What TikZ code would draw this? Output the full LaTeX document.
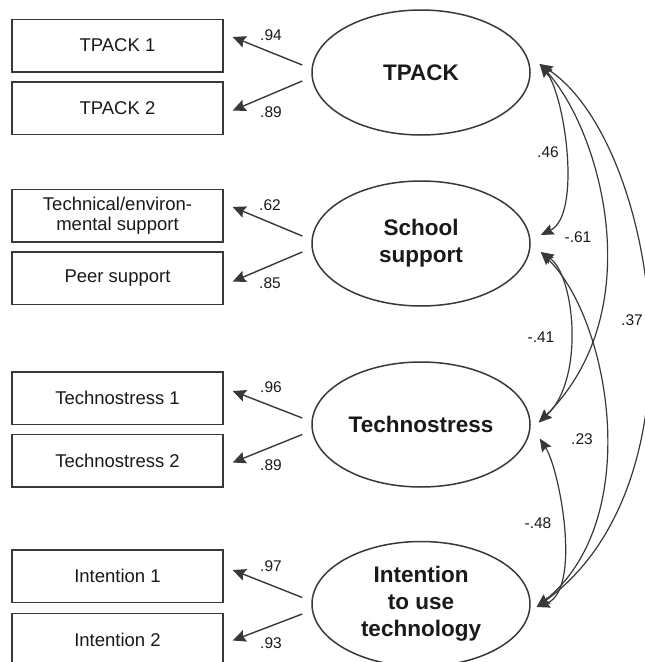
\documentclass[tikz,border=0pt]{standalone}
\usepackage{fontspec}
\setmainfont{Liberation Sans}
\usetikzlibrary{arrows.meta,calc,shapes.geometric}
\definecolor{ln}{HTML}{383838}
\definecolor{tx}{HTML}{1A1A1A}
\begin{document}
\begin{tikzpicture}[x=1pt,y=-1pt,
  obs/.style={draw=ln, line width=1.5pt, rectangle, minimum width=211pt, minimum height=52.5pt, inner sep=0pt, text=tx, font=\fontsize{18.5}{20}\selectfont, align=center},
  lat/.style={draw=ln, line width=1.5pt, ellipse, minimum width=218pt, minimum height=125pt, inner sep=0pt, text=tx, font=\bfseries\fontsize{22.5}{27}\selectfont, align=center},
  coef/.style={text=tx, font=\fontsize{15.5}{17}\selectfont, inner sep=0pt},
  load/.style={draw=ln, line width=1.4pt, -{Stealth[length=13pt,width=12pt,inset=2pt]}},
  cov/.style={draw=ln, line width=1.2pt, {Stealth[length=13pt,width=11pt,inset=2pt]}-{Stealth[length=13pt,width=11pt,inset=2pt]}}
]
\useasboundingbox (0,0) rectangle (645,662);
\clip (0,0) rectangle (645,662);
\fill[white] (0,0) rectangle (645,662);

% observed indicators
\node[obs] (o1) at (117.5,45.5) {TPACK 1};
\node[obs] (o2) at (117.5,108) {TPACK 2};
\node[obs] (o3) at (117.5,215.5) {Technical/environ-\\mental support};
\node[obs] (o4) at (117.5,278) {Peer support};
\node[obs] (o5) at (117.5,398) {Technostress 1};
\node[obs] (o6) at (117.5,460.5) {Technostress 2};
\node[obs] (o7) at (117.5,576) {Intention 1};
\node[obs] (o8) at (117.5,639.5) {Intention 2};

% latent variables
\node[lat] (l1) at (421,72.5) {TPACK};
\node[lat] (l2) at (421,243.5) {School\\support};
\node[lat] (l3) at (421,424.5) {Technostress};
\node[lat] (l4) at (421,604) {Intention\\to use\\technology};

% loadings
\draw[load] ($(l1.west)+(-9,-7.5)$) -- ($(o1.east)+(9,-8.5)$);
\draw[load] ($(l1.west)+(-9,8.5)$) -- ($(o2.east)+(9,2.5)$);
\draw[load] ($(l2.west)+(-9,-7.5)$) -- ($(o3.east)+(9,-8.5)$);
\draw[load] ($(l2.west)+(-9,8.5)$) -- ($(o4.east)+(9,3.5)$);
\draw[load] ($(l3.west)+(-9,-6.5)$) -- ($(o5.east)+(9,-7)$);
\draw[load] ($(l3.west)+(-9,10)$) -- ($(o6.east)+(9,2)$);
\draw[load] ($(l4.west)+(-9,-6.5)$) -- ($(o7.east)+(9,-6)$);
\draw[load] ($(l4.west)+(-9,10)$) -- ($(o8.east)+(9,1)$);

\node[coef] (k1) at (271,35) {.94};
\node[coef] (k2) at (271,112) {.89};
\node[coef] (k3) at (270,205) {.62};
\node[coef] (k4) at (270,283) {.85};
\node[coef] (k5) at (271,387.5) {.96};
\node[coef] (k6) at (271,465) {.89};
\node[coef] (k7) at (271,566) {.97};
\node[coef] (k8) at (271,643) {.93};

% covariance end points
\coordinate (cT) at ($(l1.east)+(9,-8.5)$);
\coordinate (cSu) at ($(l2.east)+(10,-8.5)$);
\coordinate (cSd) at ($(l2.east)+(10,8.5)$);
\coordinate (cTu) at ($(l3.east)+(8,-2)$);
\coordinate (cTd) at ($(l3.east)+(9,14)$);
\coordinate (cI) at ($(l4.east)+(6,3)$);

\draw[cov] (cT) .. controls (565,95) and (582,215) .. (cSu);
\draw[cov] (cT) .. controls (600,130) and (652,310) .. (cTu);
\draw[cov] (cT) .. controls (655,140) and (712,480) .. (cI);
\draw[cov] (cSd) .. controls (575,275) and (585,380) .. (cTu);
\draw[cov] (cSd) .. controls (610,320) and (645,520) .. (cI);
\draw[cov] (cTd) .. controls (560,470) and (582,590) .. (cI);

\node[coef] (r1) at (548,152) {.46};
\node[coef] (r2) at (578,237) {-.61};
\node[coef] (r3) at (632,320) {.37};
\node[coef] (r4) at (541,337) {-.41};
\node[coef] (r5) at (582,439) {.23};
\node[coef] (r6) at (538,523) {-.48};
\end{tikzpicture}
\end{document}
